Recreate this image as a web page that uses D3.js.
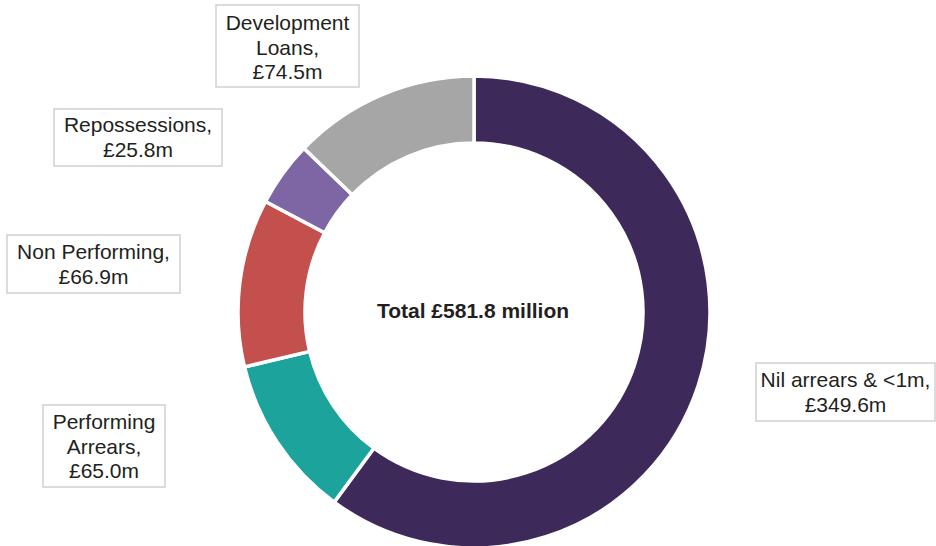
<!DOCTYPE html>
<html>
<head>
<meta charset="utf-8">
<script src="https://cdn.jsdelivr.net/npm/d3@7"></script>
<style>
  html, body { margin: 0; padding: 0; background: #fff; }
  svg { display: block; font-family: "Liberation Sans", Arial, sans-serif; }
</style>
</head>
<body>
<svg id="chart" width="936" height="546"></svg>
<script>
// Data
const categories = ["Nil arrears & <1m", "Performing Arrears", "Non Performing", "Repossessions", "Development Loans"];
const values = [349.6, 65.0, 66.9, 25.8, 74.5];
const colours = ["#3e2a5a", "#1ba39c", "#c4504d", "#7e65a3", "#a6a6a6"];
const labelLines = [
    ["Nil arrears & <1m,", "£349.6m"],
    ["Performing", "Arrears,", "£65.0m"],
    ["Non Performing,", "£66.9m"],
    ["Repossessions,", "£25.8m"],
    ["Development", "Loans,", "£74.5m"]
];
const totalLabel = "Total £581.8 million";

// Label box layout (x0, y0, x1, y1, first baseline)
const labelBoxes = [
    [756, 363, 935, 421, 387],
    [43, 405, 165, 487, 429],
    [7, 235, 180, 293, 259],
    [54, 109, 222, 166, 132],
    [216, 5, 359, 87, 30]
];

const cx = 474, cy = 312;
const outerR = 236, innerR = 169;

const svg = d3.select("#chart");

const data = categories.map((c, i) => ({ name: c, value: values[i], colour: colours[i], lines: labelLines[i], box: labelBoxes[i] }));

const pie = d3.pie().value(d => d.value).sort(null);
const arc = d3.arc().innerRadius(innerR).outerRadius(outerR);

const g = svg.append("g").attr("transform", `translate(${cx},${cy})`);

g.selectAll("path")
    .data(pie(data))
    .enter()
    .append("path")
    .attr("d", arc)
    .attr("fill", d => d.data.colour)
    .attr("stroke", "#fff")
    .attr("stroke-width", 3.5)
    .attr("stroke-linejoin", "miter");

// Centre label
g.append("text")
    .attr("x", -1)
    .attr("y", 6)
    .attr("text-anchor", "middle")
    .attr("font-size", 21)
    .attr("font-weight", "bold")
    .attr("fill", "#231f20")
    .text(totalLabel);

// Label boxes
const labels = svg.selectAll("g.label")
    .data(data)
    .enter()
    .append("g")
    .attr("class", "label");

labels.append("rect")
    .attr("x", d => d.box[0])
    .attr("y", d => d.box[1])
    .attr("width", d => d.box[2] - d.box[0])
    .attr("height", d => d.box[3] - d.box[1])
    .attr("fill", "#fff")
    .attr("stroke", "#d0d0d0")
    .attr("stroke-width", 1.5);

labels.each(function(d) {
    const t = d3.select(this).append("text")
        .attr("text-anchor", "middle")
        .attr("font-size", 21)
        .attr("fill", "#231f20");
    d.lines.forEach((line, j) => {
        t.append("tspan")
            .attr("x", (d.box[0] + d.box[2]) / 2)
            .attr("y", d.box[4] + j * 24.5)
            .text(line);
    });
});
</script>
</body>
</html>
